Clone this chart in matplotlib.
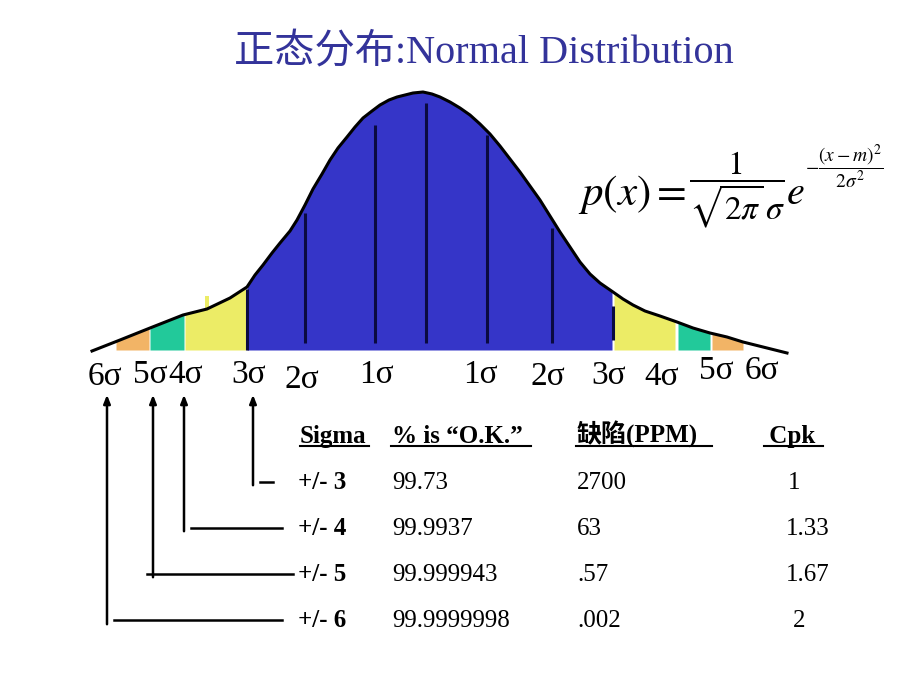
import matplotlib
matplotlib.use('Agg')
import matplotlib.pyplot as plt
import numpy as np

plt.rcParams['mathtext.fontset'] = 'stix'
SERIF = ['Liberation Serif', 'Noto Sans CJK SC']

# bell curve outline (slide pixel units)
curve_x = [92, 120, 150, 183, 207, 230, 247, 255, 263, 272, 280, 290, 297, 305, 313, 322, 330,
           338, 347, 355, 363, 372, 380, 389, 397, 405, 413, 423, 432, 440, 450, 460, 470, 480,
           490, 500, 510, 520, 530, 540, 550, 560, 570, 580, 590, 600, 613, 623, 633, 645, 660,
           677, 693, 710, 727, 743, 787]
curve_y = [351, 340, 328, 315, 309, 298, 287, 275, 265, 253, 243, 231, 220, 205, 189, 174, 160,
           148, 137, 127, 118, 111, 105, 100, 97, 95, 93, 92, 94, 97, 102, 108, 115, 124,
           134, 146, 159, 172, 186, 200, 216, 232, 247, 262, 274, 283, 292, 299, 305, 311, 316,
           322, 328, 333, 337, 342, 353]
baseline = 350

# coloured bands under the curve
band_edges = [(116, 149), (150, 184), (185, 246), (247, 612), (614, 675), (678, 710), (712, 743)]
band_colors = ['#f2b466', '#22c99a', '#ecec66', '#3535c8', '#ecec66', '#22c99a', '#f2b466']

# black verticals inside the blue area: x, top, bottom
inner_x = [247, 305, 375, 426, 487, 552, 613]
inner_top = [289, 213, 125, 103, 135, 228, 306]
inner_bottom = [350, 343, 343, 343, 343, 343, 340]

sigma_labels = ['6σ', '5σ', '4σ', '3σ', '2σ', '1σ', '1σ', '2σ', '3σ', '4σ', '5σ', '6σ']
label_x = [105, 150, 186, 249, 302, 376, 480, 548, 609, 662, 716, 762]
label_y = [377, 375, 375, 375, 380, 375, 375, 377, 376, 377, 371, 371]

# table
headers = ['Sigma', '% is “O.K.”', '缺陷(PPM)', ' Cpk']
sigma_levels = ['3', '4', '5', '6']
pct_ok = ['99.73', '99.9937', '99.999943', '99.9999998']
ppm = ['2700', '63', '.57', '.002']
cpk = ['1', '1.33', '1.67', '2']

col_x = [300, 392, 577, 763]
underline = [(300, 369), (391, 531), (576, 712), (764, 823)]
row_base = [489, 535, 581, 627]
cpk_x = [788, 786, 786, 793]

# guide arrows from each row up to the sigma labels
arrow_x = [253, 184, 153, 107]
arrow_bottom = [488, 534, 580, 627]
hline = [(260, 273), (191, 282), (147, 293), (114, 282)]
hline_y = [482, 528, 574, 620]

fig = plt.figure(figsize=(9.2, 6.9), dpi=100)
ax = fig.add_axes([0, 0, 1, 1])
ax.set_xlim(0, 920)
ax.set_ylim(690, 0)
ax.axis('off')

for (x0, x1), c in zip(band_edges, band_colors):
    xs = np.linspace(x0, x1, 80)
    ax.fill_between(xs, np.interp(xs, curve_x, curve_y), baseline, color=c, lw=0)

# small yellow stub left of 3 sigma
ax.bar(207, 14, width=4, bottom=296, color='#ecec66')

ax.vlines(inner_x, inner_top, inner_bottom, color='#0a0a40', lw=2.2)
ax.plot(curve_x, curve_y, color='black', lw=2.2, solid_joinstyle='round')

for s, x, y in zip(sigma_labels, label_x, label_y):
    ax.text(x, y, s, ha='center', va='center', fontsize=24, family=SERIF)

ax.text(484, 52, '正态分布:Normal Distribution', ha='center', va='center',
        fontsize=29, family=SERIF, color='#33339a')

# density formula, built from pieces to match the slide's proportions
ax.text(578, 195, r'$p(x)=$', ha='left', va='center', fontsize=31)
ax.text(737, 190, r'$\dfrac{1}{\sqrt{2\pi}\,\sigma}$', ha='center', va='center', fontsize=24)
ax.text(786, 193, r'$e$', ha='left', va='center', fontsize=29)
ax.text(805, 167, r'$-\dfrac{(x-m)^2}{2\sigma^2}$', ha='left', va='center', fontsize=14)

for h, x in zip(headers, col_x):
    ax.text(x, 443, h, ha='left', va='baseline', fontsize=18, family=SERIF, fontweight='bold')
for x0, x1 in underline:
    ax.plot([x0, x1], [446, 446], color='black', lw=1.5)

for i, y in enumerate(row_base):
    ax.text(298, y, '+/- ' + sigma_levels[i], ha='left', va='baseline', fontsize=18,
            family=SERIF, fontweight='bold')
    ax.text(col_x[1], y, pct_ok[i], ha='left', va='baseline', fontsize=18, family=SERIF)
    ax.text(col_x[2], y, ppm[i], ha='left', va='baseline', fontsize=18, family=SERIF)
    ax.text(cpk_x[i], y, cpk[i], ha='left', va='baseline', fontsize=18, family=SERIF)

for x, yb, (h0, h1), yh in zip(arrow_x, arrow_bottom, hline, hline_y):
    ax.annotate('', xy=(x, 392), xytext=(x, yb),
                arrowprops=dict(arrowstyle='-|>,head_length=0.5,head_width=0.2',
                                color='black', lw=1.8))
    ax.plot([h0, h1], [yh, yh], color='black', lw=1.8)

fig.savefig('out.png', dpi=100)
